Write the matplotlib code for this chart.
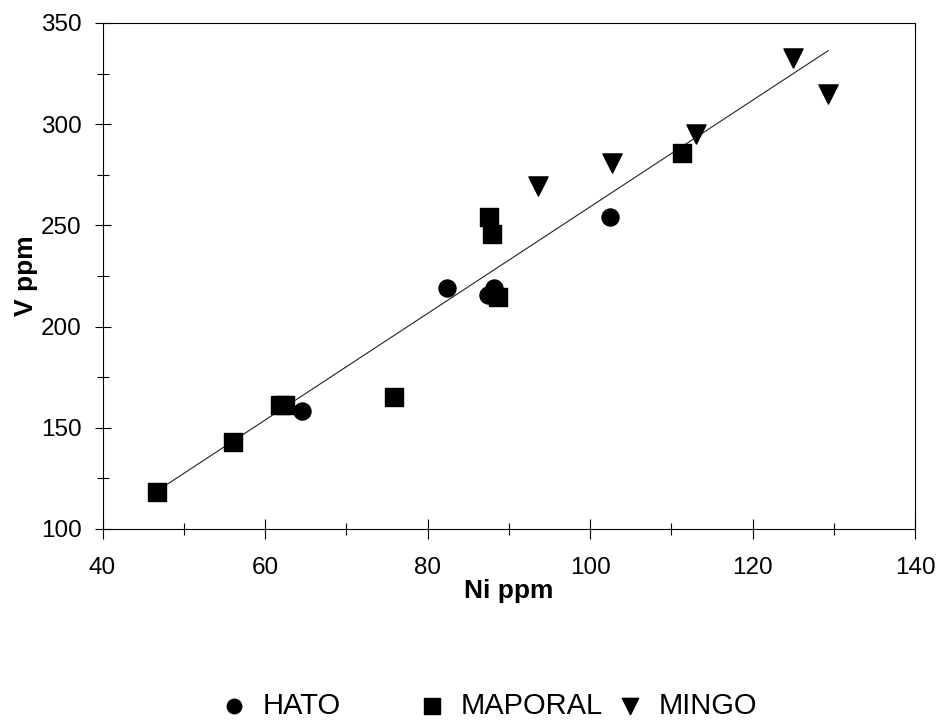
import numpy as np
import matplotlib.pyplot as plt
from matplotlib.ticker import MultipleLocator

plt.rcParams['font.family'] = ['Liberation Sans', 'DejaVu Sans']

# datos
hato_ni = [64.5, 82.4, 87.4, 88.2, 102.4]
hato_v = [158.3, 219.1, 215.6, 219.1, 254.2]

maporal_ni = [46.7, 56.0, 61.8, 62.5, 75.9, 87.6, 87.9, 88.7, 111.3]
maporal_v = [118.4, 142.8, 161.3, 161.3, 165.4, 254.2, 245.9, 214.8, 285.9]

mingo_ni = [93.6, 102.7, 113.0, 125.0, 129.3]
mingo_v = [269.7, 280.9, 295.2, 332.6, 314.9]

fig = plt.figure(figsize=(9.38, 7.2), dpi=100)
ax = fig.add_axes([0.1093, 0.2653, 0.8662, 0.7028])

ax.scatter(hato_ni, hato_v, marker='o', s=150, c='black', label='HATO', zorder=3)
ax.scatter(maporal_ni, maporal_v, marker='s', s=170, c='black', label='MAPORAL', zorder=3)
ax.scatter(mingo_ni, mingo_v, marker='v', s=190, c='black', label='MINGO', zorder=3)

# linea de tendencia con todos los puntos
x_all = np.array(hato_ni + maporal_ni + mingo_ni)
y_all = np.array(hato_v + maporal_v + mingo_v)
m, b = np.polyfit(x_all, y_all, 1)
xl = np.array([x_all.min(), x_all.max()])
ax.plot(xl, m * xl + b, color='#222222', lw=0.8, zorder=2)

ax.set_xlim(40, 140)
ax.set_ylim(100, 350)
ax.xaxis.set_major_locator(MultipleLocator(20))
ax.xaxis.set_minor_locator(MultipleLocator(10))
ax.yaxis.set_major_locator(MultipleLocator(50))
ax.yaxis.set_minor_locator(MultipleLocator(25))
ax.tick_params(which='both', direction='inout', width=0.8, labelsize=17.5)
ax.tick_params(axis='x', which='major', length=14, pad=13)
ax.tick_params(axis='x', which='minor', length=9)
ax.tick_params(axis='y', which='major', length=12, pad=9)
ax.tick_params(axis='y', which='minor', length=8)
for s in ax.spines.values():
    s.set_linewidth(0.8)

ax.set_xlabel('Ni ppm', fontsize=19, fontweight='bold', labelpad=0)
ax.set_ylabel('V ppm', fontsize=19, fontweight='bold', labelpad=2)

# leyenda: una entrada por posicion, como en el original
h, l = ax.get_legend_handles_labels()
xpos = [0.2370, 0.4481, 0.6592]
for hi, li, xp in zip(h, l, xpos):
    fig.legend([hi], [li], loc='center left', bbox_to_anchor=(xp, 0.0194),
               frameon=False, fontsize=21, markerscale=0.85, handletextpad=0.59,
               handlelength=0.8, borderpad=0, borderaxespad=0)

fig.savefig('out.png', dpi=100)
